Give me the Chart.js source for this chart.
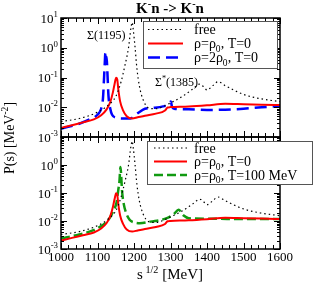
<!DOCTYPE html>
<html><head><meta charset="utf-8">
<script src="https://cdn.jsdelivr.net/npm/chart.js@4.4.0/dist/chart.umd.min.js"></script>
<style>
html,body{margin:0;padding:0;background:#fff;}
#wrap{position:relative;width:316px;height:284px;background:#fff;}
canvas{position:absolute;left:0;top:0;}
</style></head><body>
<div id="wrap"><canvas id="c1" width="316" height="284"></canvas><canvas id="c2" width="316" height="284"></canvas></div>
<script>
// ---- data ----
const sTicks = [1000, 1100, 1200, 1300, 1400, 1500, 1600];
const decadesTop = [-3, -2, -1, 0, 1];
const decadesBottom = [-3, -2, -1, 0];

const freeS = [1000,1050,1100,1130,1150,1165,1175,1185,1192,1195,1198,1203,1208,1215,1225,1240,1260,1280,1300,1330,1360,1380,1390,1400,1415,1430,1450,1500,1550,1600];
const freeP = [0.0033,0.0042,0.0068,0.012,0.023,0.075,0.25,1.0,5.0,7.1,4.0,1.0,0.20,0.050,0.0178,0.0095,0.0089,0.0105,0.0140,0.022,0.040,0.060,0.050,0.038,0.052,0.072,0.053,0.027,0.019,0.0155];

const rhoS = [1000,1030,1060,1090,1110,1125,1135,1142,1147,1151,1154,1157,1162,1170,1180,1195,1210,1230,1260,1285,1292,1300,1350,1400,1450,1500,1550,1600];
const rhoP = [0.0020,0.0025,0.0031,0.0039,0.0054,0.0085,0.0150,0.031,0.062,0.098,0.088,0.040,0.0158,0.0079,0.0050,0.0042,0.0046,0.0052,0.0061,0.0078,0.0098,0.0101,0.0106,0.0116,0.0130,0.0126,0.0122,0.0118];

const rho2S = [1000,1050,1080,1100,1110,1115,1118,1120,1121.5,1123,1125,1127,1130,1135,1140,1150,1170,1190,1210,1230,1250,1280,1295,1301,1304,1310,1350,1400,1450,1500,1550,1600];
const rho2P = [0.0019,0.0028,0.0040,0.0056,0.0089,0.020,0.10,0.32,0.65,0.40,0.50,0.16,0.025,0.0089,0.0056,0.0045,0.0042,0.0042,0.0063,0.0089,0.0095,0.0107,0.0126,0.0155,0.0105,0.0089,0.0085,0.0081,0.0083,0.0089,0.0100,0.0110];

const hotS = [1000,1050,1100,1130,1145,1152,1157,1160,1163,1165,1167,1172,1178,1188,1200,1216,1245,1290,1310,1322,1335,1350,1400,1500,1600];
const hotP = [0.0024,0.0033,0.0055,0.011,0.025,0.045,0.13,0.25,0.85,0.40,0.13,0.040,0.020,0.011,0.0089,0.0083,0.0095,0.0126,0.018,0.025,0.016,0.0126,0.0120,0.0118,0.0117];

// ---- helpers ----
const SERIF = '"Liberation Serif","Times New Roman",Times,serif';
function pts(xs, ys){ return xs.map((s,i)=>({x:s, y:ys[i]})); }
function drawRich(ctx, x, y, parts, size, align, bold){
  const ws = []; let w = 0;
  for (const [t,m] of parts){ const fs = m ? size*0.68 : size; ctx.font = (bold?'bold ':'') + fs + 'px ' + SERIF; const ww = ctx.measureText(t).width; ws.push(ww); w += ww; }
  let cx = align === 'center' ? x - w/2 : (align === 'right' ? x - w : x);
  ctx.textAlign = 'left'; ctx.textBaseline = 'alphabetic'; ctx.fillStyle = '#000';
  parts.forEach(([t,m],i)=>{
    const fs = m ? size*0.68 : size;
    ctx.font = (bold?'bold ':'') + fs + 'px ' + SERIF;
    const dy = m === 1 ? -size*0.42 : (m === -1 ? size*0.25 : 0);
    ctx.fillText(t, cx, y + dy); cx += ws[i];
  });
}
function drawFrame(chart, decades){
  const {ctx, chartArea:a} = chart; const x = chart.scales.x, y = chart.scales.y;
  ctx.save();
  ctx.strokeStyle = '#000'; ctx.lineWidth = 1; ctx.setLineDash([]);
  ctx.beginPath();
  for (let s = 1000; s <= 1600; s += 20){
    const px = Math.round(x.getPixelForValue(s)) + 0.5; const L = (s % 100 === 0) ? 6 : 4;
    ctx.moveTo(px, a.bottom); ctx.lineTo(px, a.bottom - L);
    ctx.moveTo(px, a.top); ctx.lineTo(px, a.top + L);
  }
  for (let k = -3; k <= 1; k++){
    for (let m = 1; m < 10; m++){
      if (k === 1 && m > 1) break;
      const py = Math.round(y.getPixelForValue(m * Math.pow(10, k))) + 0.5; const L = m === 1 ? 6 : 3;
      ctx.moveTo(a.left, py); ctx.lineTo(a.left + L, py);
      ctx.moveTo(a.right, py); ctx.lineTo(a.right - L, py);
    }
  }
  ctx.stroke();
  ctx.lineWidth = 1.5;
  ctx.strokeRect(a.left, a.top, a.right - a.left, a.bottom - a.top);
  for (const k of decades){
    const py = y.getPixelForValue(Math.pow(10, k));
    drawRich(ctx, a.left - 3, py + 4.5, [['10',0],[String(k),1]], 13, 'right');
  }
  ctx.restore();
}
function drawLegend(ctx, box, lineX0, lineX1, textX, rows){
  ctx.save();
  ctx.fillStyle = '#fff'; ctx.fillRect(box[0], box[1], box[2], box[3]);
  ctx.strokeStyle = '#555'; ctx.lineWidth = 1; ctx.setLineDash([]);
  ctx.strokeRect(box[0]+0.5, box[1]+0.5, box[2], box[3]);
  for (const r of rows){
    ctx.beginPath(); ctx.strokeStyle = r.color; ctx.lineWidth = r.width; ctx.setLineDash(r.dash);
    ctx.moveTo(lineX0, r.y); ctx.lineTo(lineX1, r.y); ctx.stroke();
    ctx.setLineDash([]);
    drawRich(ctx, textX, r.y + 4.5, r.label, 14, 'left');
  }
  ctx.restore();
}
const styleFree = {borderColor:'#000', borderWidth:1.2, borderDash:[1.5,3]};
const styleRho = {borderColor:'#ff0000', borderWidth:2};
const styleRho2 = {borderColor:'#0000ff', borderWidth:2.5, borderDash:[12,6]};
const styleHot = {borderColor:'#119a11', borderWidth:2.5, borderDash:[9,4]};
const lblFree = [['free',0]];
const lblRho = [['ρ=ρ',0],['0',-1],[', T=0',0]];
const lblRho2 = [['ρ=2ρ',0],['0',-1],[', T=0',0]];
const lblHot = [['ρ=ρ',0],['0',-1],[', T=100 MeV',0]];

function baseOptions(padTop, padBottom, xHeight, showX){
  return {
    responsive:false, animation:false, devicePixelRatio:1,
    layout:{padding:{left:0, right:36, top:padTop, bottom:padBottom}},
    plugins:{legend:{display:false}, tooltip:{enabled:false}, title:{display:false}},
    elements:{point:{radius:0}, line:{cubicInterpolationMode:'monotone', fill:false}},
    scales:{
      x:{type:'linear', min:1000, max:1600, grid:{display:false, drawTicks:false, tickLength:0}, border:{display:false},
         afterBuildTicks:(sc)=>{ sc.ticks = sTicks.map(v=>({value:v})); },
         ticks:{display:showX, color:'#000', padding:1, maxRotation:0, autoSkip:false, font:{family:SERIF, size:13},
                callback:(v)=>String(v)},
         afterFit:(sc)=>{ sc.height = xHeight; }},
      y:{type:'logarithmic', min:1e-3, max:10, grid:{display:false, drawTicks:false}, border:{display:false},
         ticks:{display:false}, afterFit:(sc)=>{ sc.width = 61; }}
    }
  };
}

// ---- top chart ----
const optTop = baseOptions(18, 147, 0, false);
new Chart(document.getElementById('c1'), {
  type:'line',
  data:{datasets:[
    Object.assign({label:'free', data:pts(freeS, freeP)}, styleFree),
    Object.assign({label:'rho0', data:pts(rhoS, rhoP)}, styleRho),
    Object.assign({label:'2rho0', data:pts(rho2S, rho2P)}, styleRho2)
  ]},
  options:optTop,
  plugins:[{id:'deco1', afterDraw(chart){
    const ctx = chart.ctx;
    drawFrame(chart, decadesTop);
    drawLegend(ctx, [143,21,134,47], 148, 183, 194, [
      {y:29.5, label:lblFree, color:'#000', width:1.2, dash:[1.5,3]},
      {y:43.5, label:lblRho, color:'#ff0000', width:2, dash:[]},
      {y:57.5, label:lblRho2, color:'#0000ff', width:2.5, dash:[12,6]}
    ]);
    ctx.save();
    drawRich(ctx, 87, 39, [['Σ(1195)',0]], 12, 'left');
    drawRich(ctx, 155, 86, [['Σ',0],['*',1],['(1385)',0]], 12, 'left');
    drawRich(ctx, 170, 13, [['K',0],['-',1],['n -> K',0],['-',1],['n',0]], 15, 'center', true);
    ctx.restore();
  }}]
});

// ---- bottom chart ----
const optBot = baseOptions(137, 0, 35, true);
new Chart(document.getElementById('c2'), {
  type:'line',
  data:{datasets:[
    Object.assign({label:'free', data:pts(freeS, freeP)}, styleFree),
    Object.assign({label:'rho0', data:pts(rhoS, rhoP)}, styleRho),
    Object.assign({label:'hot', data:pts(hotS, hotP)}, styleHot)
  ]},
  options:optBot,
  plugins:[{id:'deco2', afterDraw(chart){
    const ctx = chart.ctx;
    drawFrame(chart, decadesBottom);
    drawLegend(ctx, [147,141,165,43], 154, 187, 194, [
      {y:148, label:lblFree, color:'#000', width:1.2, dash:[1.5,3]},
      {y:161.5, label:lblRho, color:'#ff0000', width:2, dash:[]},
      {y:175, label:lblHot, color:'#119a11', width:2.5, dash:[9,4]}
    ]);
    ctx.save();
    drawRich(ctx, 170, 279, [['s',0],[' 1/2',1],[' [MeV]',0]], 15, 'center');
    ctx.translate(14, 138); ctx.rotate(-Math.PI/2);
    drawRich(ctx, 0, 0, [['P(s) [MeV',0],['-2',1],[']',0]], 14, 'center');
    ctx.restore();
  }}]
});
</script>
</body></html>
